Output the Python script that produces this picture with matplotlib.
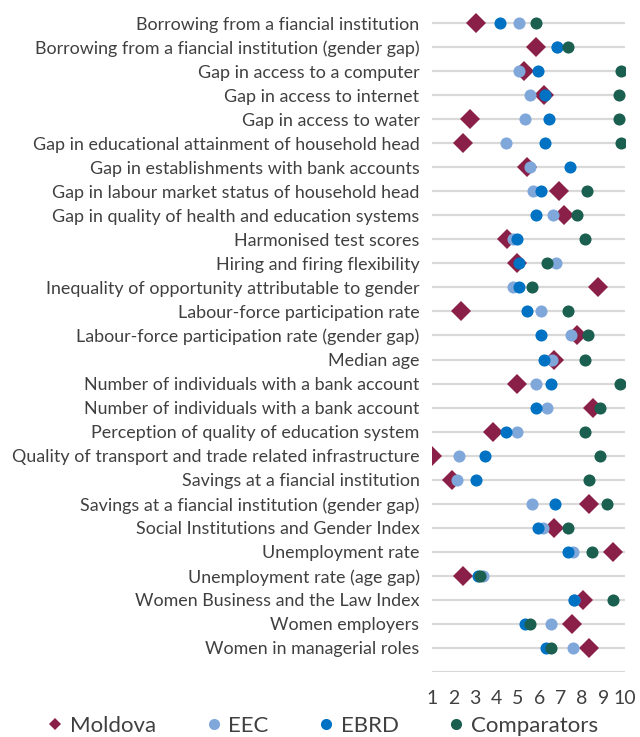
import numpy as np
import matplotlib
matplotlib.use("Agg")
import matplotlib.pyplot as plt
from matplotlib.lines import Line2D

plt.rcParams['font.family'] = ['Lato', 'DejaVu Sans']

# Data (scale 1-10)
categories = [
    "Borrowing from a fiancial institution",
    "Borrowing from a fiancial institution (gender gap)",
    "Gap in access to a computer",
    "Gap in access to internet",
    "Gap in access to water",
    "Gap in educational attainment of household head",
    "Gap in establishments with bank accounts",
    "Gap in labour market status of household head",
    "Gap in quality of health and education systems",
    "Harmonised test scores",
    "Hiring and firing flexibility",
    "Inequality of opportunity attributable to gender",
    "Labour-force participation rate",
    "Labour-force participation rate (gender gap)",
    "Median age",
    "Number of individuals with a bank account",
    "Number of individuals with a bank account",
    "Perception of quality of education system",
    "Quality of transport and trade related infrastructure",
    "Savings at a fiancial institution",
    "Savings at a fiancial institution (gender gap)",
    "Social Institutions and Gender Index",
    "Unemployment rate",
    "Unemployment rate (age gap)",
    "Women Business and the Law Index",
    "Women employers",
    "Women in managerial roles",
]
moldova = [3.05, 5.85, 5.31, 6.24, 2.77, 2.46, 5.45, 6.94, 7.16, 4.48, 4.95, 8.76, 2.37, 7.78,
           6.69, 4.96, 8.52, 3.85, 1.0, 1.93, 8.34, 6.69, 9.43, 2.46, 8.03, 7.54, 8.34]
eec = [5.06, 6.83, 5.06, 5.56, 5.35, 4.47, 5.57, 5.73, 6.66, 4.76, 6.77, 4.76, 6.07, 7.47,
       6.61, 5.85, 6.36, 4.96, 2.27, 2.18, 5.66, 6.16, 7.56, 3.36, 7.64, 6.56, 7.56]
ebrd = [4.17, 6.83, 5.96, 6.27, 6.46, 6.26, 7.44, 6.07, 5.85, 4.96, 5.06, 5.06, 5.45, 6.07,
        6.24, 6.56, 5.85, 4.47, 3.47, 3.07, 6.74, 5.96, 7.34, 3.16, 7.64, 5.35, 6.32]
comparators = [5.85, 7.34, 9.83, 9.74, 9.74, 9.83, np.nan, 8.25, 7.75, 8.15, 6.35, 5.66, 7.34, 8.26,
               8.15, 9.77, 8.84, 8.15, 8.85, 8.34, 9.15, 7.34, 8.45, 3.24, 9.46, 5.57, 6.56]

series_names = ["Moldova", "EEC", "EBRD", "Comparators"]
colors = ["#8A1F48", "#7FA7DA", "#0072C3", "#1A5F50"]
text_color = "#404040"

n = len(categories)
y_pos = np.arange(n, 0, -1)  # first category at top

fig = plt.figure(figsize=(6.4, 7.37), dpi=100)
ax = fig.add_axes([432 / 640, 1 - 672 / 737, 193 / 640, 673 / 737])

# horizontal gridlines on every row plus baseline
for yv in range(0, n + 1):
    ax.axhline(yv, color="#D9D9D9", lw=1.6, zorder=0)

ax.plot(moldova, y_pos, ls="none", marker="D", ms=10.2, mew=0, color=colors[0], zorder=2)
ax.plot(eec, y_pos, ls="none", marker="o", ms=8.7, mew=0, color=colors[1], zorder=3)
ax.plot(ebrd, y_pos, ls="none", marker="o", ms=8.7, mew=0, color=colors[2], zorder=4)
ax.plot(comparators, y_pos, ls="none", marker="o", ms=8.7, mew=0, color=colors[3], zorder=5)

ax.set_xlim(1, 10)
ax.set_ylim(0, n + 1)
ax.set_xticks(range(1, 11))
ax.set_yticks(y_pos)
ax.set_yticklabels(categories)
ax.tick_params(axis="y", length=0, pad=9, labelsize=12.9, labelcolor=text_color)
ax.tick_params(axis="x", length=0, pad=13, labelsize=14, labelcolor=text_color)
for s in ax.spines.values():
    s.set_visible(False)
ax.patch.set_visible(False)

handles = [
    Line2D([], [], ls="none", marker="D", ms=6.5, mew=0, color=colors[0]),
    Line2D([], [], ls="none", marker="o", ms=8, mew=0, color=colors[1]),
    Line2D([], [], ls="none", marker="o", ms=8, mew=0, color=colors[2]),
    Line2D([], [], ls="none", marker="o", ms=8, mew=0, color=colors[3]),
]
leg = fig.legend(handles, series_names, loc="center", bbox_to_anchor=(0.505, 1 - 726 / 737),
                 ncol=4, frameon=False, fontsize=16, handlelength=0.6, handletextpad=0.35,
                 columnspacing=2.3, labelcolor=text_color)

fig.savefig("out.png", dpi=100)
